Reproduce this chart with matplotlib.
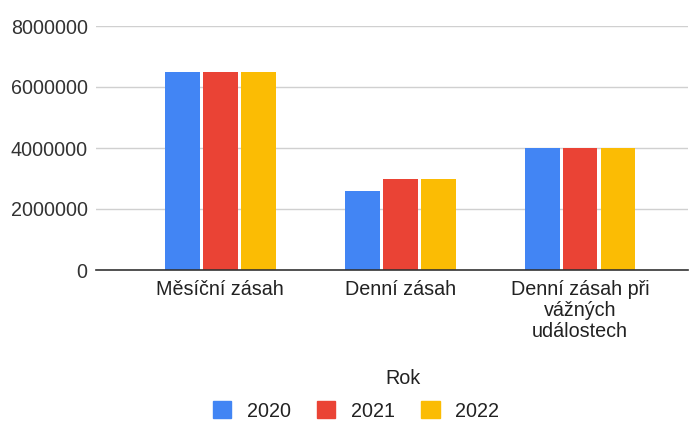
import matplotlib
matplotlib.use("Agg")
import matplotlib.pyplot as plt
import numpy as np
from matplotlib.patches import Patch

categories = ["Měsíční zásah", "Denní zásah", "Denní zásah při\nvážných\nudálostech"]
years = ["2020", "2021", "2022"]
v2020 = [6500000, 2600000, 4000000]
v2021 = [6500000, 3000000, 4000000]
v2022 = [6500000, 3000000, 4000000]
series = [v2020, v2021, v2022]
colors = ["#4285F4", "#EA4335", "#FBBC04"]
yticks = [0, 2000000, 4000000, 6000000, 8000000]

plt.rcParams['font.family'] = ['Liberation Sans', 'DejaVu Sans']
FS = 14.2

fig = plt.figure(figsize=(6.89, 4.22), dpi=100)
ax = fig.add_axes([96/689, 1-270/422, (688-96)/689, (270-26)/422])

x = np.arange(len(categories))
w = 0.194
off = 0.211
for i, (s, c) in enumerate(zip(series, colors)):
    ax.bar(x + (i-1)*off, s, width=w, color=c, zorder=3)

ax.set_xlim(-0.69, 2.6)
ax.set_ylim(0, 8000000)
ax.set_yticks(yticks)
ax.set_yticklabels([str(t) for t in yticks], fontsize=FS, color="#333333")
ax.set_xticks(x)
ax.set_xticklabels(categories, fontsize=FS, color="#222222", linespacing=1.15)
ax.tick_params(axis='y', length=0, pad=6)
ax.tick_params(axis='x', length=0, pad=7)
ax.grid(axis='y', color="#d0d0d0", linewidth=1, zorder=0)
for sp in ['top', 'right', 'left']:
    ax.spines[sp].set_visible(False)
ax.spines['bottom'].set_color("#333333")
ax.spines['bottom'].set_linewidth(1.2)
ax.spines['bottom'].set_zorder(4)

fig.text(403/689, 1-378/422, "Rok", ha='center', va='center', fontsize=FS, color="#222222")
handles = [Patch(facecolor=c, edgecolor=c) for c in colors]
fig.legend(handles, years, loc='center', bbox_to_anchor=(356/689, 1-411/422), ncol=3,
           frameon=False, fontsize=FS, handlelength=0.95, handleheight=0.95,
           columnspacing=1.3, handletextpad=0.8, labelcolor="#222222")

fig.savefig("out.png", dpi=100, facecolor="white")
